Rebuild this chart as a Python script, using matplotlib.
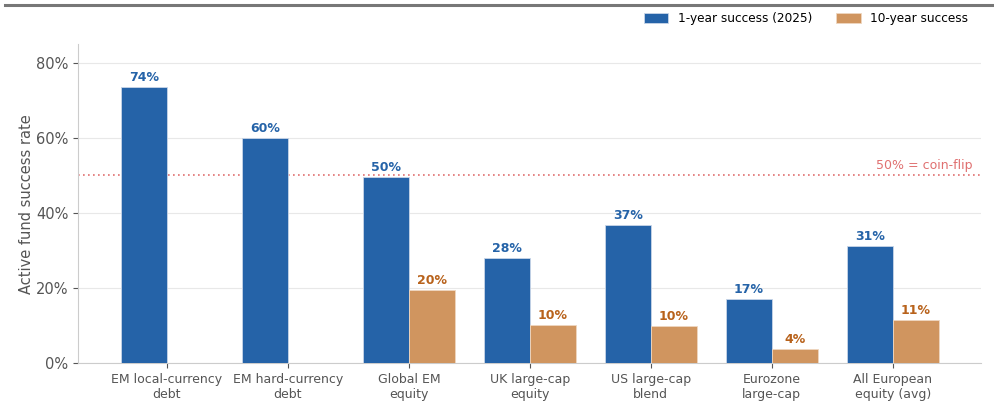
import matplotlib
matplotlib.use("Agg")
import matplotlib.pyplot as plt
import numpy as np
from matplotlib.lines import Line2D

categories = ["EM local-currency\ndebt", "EM hard-currency\ndebt", "Global EM\nequity",
              "UK large-cap\nequity", "US large-cap\nblend", "Eurozone\nlarge-cap",
              "All European\nequity (avg)"]
one_year = [73.7, 60.0, 49.5, 28.0, 36.7, 17.2, 31.2]
one_year_labels = ["74%", "60%", "50%", "28%", "37%", "17%", "31%"]
ten_year = [None, None, 19.5, 10.3, 9.9, 3.8, 11.4]
ten_year_labels = [None, None, "20%", "10%", "10%", "4%", "11%"]

blue = "#2563a8"
orange = "#d0955f"
orange_txt = "#b8621b"
grey = "#555555"

fig = plt.figure(figsize=(9.94, 4.16), dpi=100)
ax = fig.add_axes([0.0785, 0.127, 0.9085, 0.767])

x = np.arange(len(categories))
w = 0.38

ax.bar(x - w / 2, one_year, w, color=blue, edgecolor="#c9d6e8", linewidth=0.6,
       label="1-year success (2025)", zorder=3)
for xi, v, lab in zip(x, one_year, one_year_labels):
    ax.text(xi - w / 2, v + 0.8, lab, ha="center", va="bottom", fontsize=9,
            fontweight="bold", color=blue)

tx = [xi for xi, v in zip(x, ten_year) if v is not None]
tv = [v for v in ten_year if v is not None]
tl = [l for l in ten_year_labels if l is not None]
ax.bar(np.array(tx) + w / 2, tv, w, color=orange, edgecolor="#efd7c0", linewidth=0.6,
       label="10-year success", zorder=3)
for xi, v, lab in zip(tx, tv, tl):
    ax.text(xi + w / 2, v + 0.8, lab, ha="center", va="bottom", fontsize=9,
            fontweight="bold", color=orange_txt)

ax.axhline(50, color="#e07070", linestyle=(0, (1, 2)), linewidth=1.2, zorder=2)
ax.text(6.66, 50.8, "50% = coin-flip", ha="right", va="bottom", fontsize=9,
        color="#e07070")

ax.set_xlim(-0.735, 6.73)
ax.set_ylim(0, 85)
ax.set_yticks([0, 20, 40, 60, 80])
ax.set_yticklabels(["0%", "20%", "40%", "60%", "80%"])
ax.set_xticks(x)
ax.set_xticklabels(categories, fontsize=9, color=grey)
ax.tick_params(axis="y", labelsize=10.5, colors=grey)
ax.tick_params(axis="x", colors=grey)
ax.set_ylabel("Active fund success rate", fontsize=10.5, color=grey, labelpad=1.5)
ax.grid(axis="y", color="#e8e8e8", linewidth=0.8, zorder=0)
ax.spines["top"].set_visible(False)
ax.spines["right"].set_visible(False)
ax.spines["left"].set_color("#cccccc")
ax.spines["bottom"].set_color("#cccccc")

fig.legend(loc="upper right", bbox_to_anchor=(0.985, 0.997), ncol=2, frameon=False,
           fontsize=8.7, handlelength=2.0, handleheight=1.0, columnspacing=2.0)

fig.add_artist(Line2D([0.005, 1.0], [0.988, 0.988], color="#777777", linewidth=2.2,
                      transform=fig.transFigure))

fig.savefig("out.png", dpi=100)
